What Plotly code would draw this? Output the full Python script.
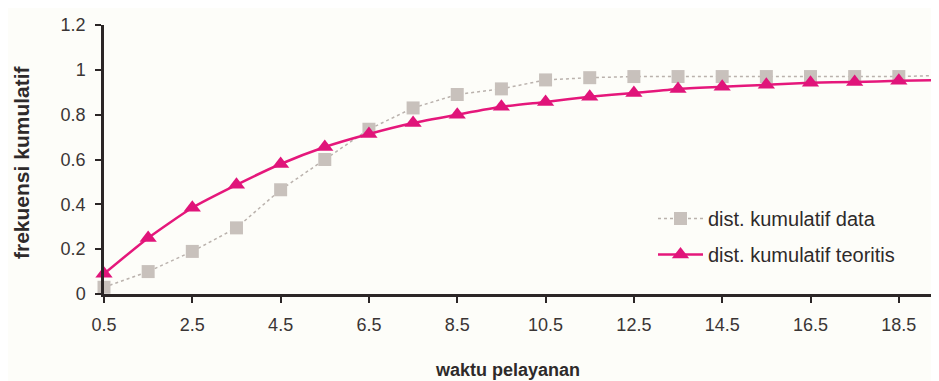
import plotly.graph_objects as go

waktu = [0.5, 1.5, 2.5, 3.5, 4.5, 5.5, 6.5, 7.5, 8.5, 9.5,
         10.5, 11.5, 12.5, 13.5, 14.5, 15.5, 16.5, 17.5, 18.5, 19.5]
kum_data = [0.03, 0.10, 0.19, 0.295, 0.465, 0.60, 0.735, 0.83, 0.89, 0.915,
            0.955, 0.965, 0.97, 0.97, 0.97, 0.97, 0.97, 0.97, 0.97, 0.975]
kum_teori = [0.09, 0.25, 0.385, 0.487, 0.58, 0.656, 0.714, 0.763, 0.80, 0.835,
             0.857, 0.88, 0.897, 0.915, 0.924, 0.933, 0.942, 0.946, 0.951, 0.955]
x_ticks = [0.5, 2.5, 4.5, 6.5, 8.5, 10.5, 12.5, 14.5, 16.5, 18.5]
y_ticks = [0, 0.2, 0.4, 0.6, 0.8, 1, 1.2]
y_labels = ["0", "0.2", "0.4", "0.6", "0.8", "1", "1.2"]
name_data = "dist. kumulatif data"
name_teori = "dist. kumulatif teoritis"

FONT = "Liberation Sans, Arial, sans-serif"
BG = "#fdfdf9"
AX = "#2b2626"
TXT = "#3a3535"

fig = go.Figure()
fig.add_trace(go.Scatter(
    x=waktu, y=kum_data, name=name_data, mode="lines+markers",
    line=dict(color="#bab2ad", width=1.5, dash="dot"),
    marker=dict(symbol="square", size=13, color="#c8c1bc"),
    cliponaxis=False, legendgroup="a",
))
fig.add_trace(go.Scatter(
    x=waktu, y=kum_teori, name=name_teori, mode="lines+markers",
    line=dict(color="#e5177b", width=2.5, shape="spline", smoothing=0.6),
    marker=dict(symbol="triangle-up", size=15, color="#e0147a"),
    cliponaxis=False, legendgroup="b",
))

# page body has an 8px margin, so the figure is sized to fit the 939x381 window
W, H = 931, 373
PL, PT = 96, 17          # plot area at screen x=104, y=25
PW, PH = 835, 269
xr = [0.5, 19.41]
yr = [0, 1.2]
common = dict(showgrid=False, zeroline=False, ticklen=6, tickwidth=1.5, tickcolor=AX)
fig.update_layout(
    width=W, height=H,
    margin=dict(l=PL, r=W - PL - PW, t=PT, b=H - PT - PH, autoexpand=False),
    paper_bgcolor=BG, plot_bgcolor=BG,
    font=dict(family=FONT, size=18, color=TXT),
    xaxis=dict(range=xr, tickvals=x_ticks, ticktext=[str(v) for v in x_ticks],
               ticks="outside", showline=True, linecolor=AX, linewidth=2.5,
               tickfont=dict(size=18, color=TXT), ticklabelstandoff=7, **common),
    yaxis=dict(range=yr, tickvals=y_ticks, ticktext=y_labels,
               ticks="outside", showline=True, linecolor=AX, linewidth=2.5,
               tickfont=dict(size=18, color=TXT), ticklabelstandoff=6, **common),
    xaxis2=dict(range=xr, tickvals=x_ticks, overlaying="x", anchor="y", side="bottom",
                ticks="inside", showticklabels=False, showline=False, **common),
    yaxis2=dict(range=yr, tickvals=y_ticks, overlaying="y", anchor="x", side="left",
                ticks="inside", showticklabels=False, showline=False, **common),
    legend=dict(x=(653 - 104) / PW, y=(294 - 199) / PH, xanchor="left", yanchor="top",
                bgcolor="rgba(0,0,0,0)", font=dict(size=20, color="#2e2a2a"),
                traceorder="grouped", tracegroupgap=7, itemwidth=45),
    showlegend=True,
    annotations=[
        dict(text="<b>frekuensi kumulatif</b>", xref="paper", yref="paper",
             x=(21 - 104) / PW, y=(294 - 162) / PH, textangle=-90, showarrow=False,
             xanchor="center", yanchor="middle",
             font=dict(size=21, color="#2e2a2a")),
        dict(text="<b>waktu pelayanan</b>", xref="paper", yref="paper",
             x=(507 - 104) / PW, y=(294 - 370) / PH, showarrow=False,
             xanchor="center", yanchor="middle",
             font=dict(size=18, color="#2e2a2a")),
    ],
)
fig.write_html("out.html")
